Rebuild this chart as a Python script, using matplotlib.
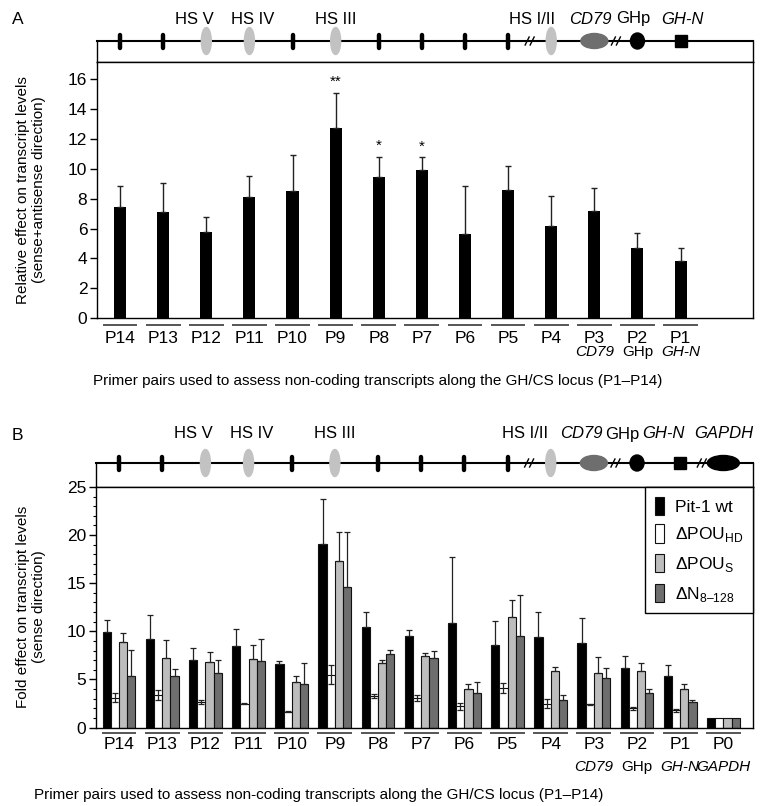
import matplotlib
matplotlib.use('Agg')
import matplotlib.pyplot as plt
from matplotlib.patches import Ellipse, Rectangle, Patch
from matplotlib.ticker import MultipleLocator
import numpy as np

FAM = ['Liberation Sans', 'DejaVu Sans']
plt.rcParams['font.family'] = FAM
plt.rcParams['mathtext.fontset'] = 'custom'
plt.rcParams['mathtext.rm'] = 'Liberation Sans'
plt.rcParams['axes.linewidth'] = 1.0

# ---------------- data ----------------
primers_A = ['P14', 'P13', 'P12', 'P11', 'P10', 'P9', 'P8', 'P7', 'P6', 'P5', 'P4', 'P3', 'P2', 'P1']
sub_A = ['', '', '', '', '', '', '', '', '', '', '', 'CD79', 'GHp', 'GH-N']
vals_A = [7.45, 7.08, 5.79, 8.13, 8.53, 12.7, 9.47, 9.91, 5.66, 8.55, 6.17, 7.17, 4.72, 3.83]
err_A = [1.42, 1.94, 0.98, 1.40, 2.37, 2.36, 1.33, 0.85, 3.18, 1.65, 1.98, 1.56, 0.98, 0.89]
stars_A = ['', '', '', '', '', '**', '*', '*', '', '', '', '', '', '']

primers_B = primers_A + ['P0']
sub_B = sub_A + ['GAPDH']
series_B = ['Pit-1 wt', 'ΔPOU$_{\\mathregular{HD}}$', 'ΔPOU$_{\\mathregular{S}}$', 'ΔN$_{\\mathregular{8–128}}$']
wt = [9.92, 9.16, 7.06, 8.51, 6.56, 19.06, 10.43, 9.51, 10.89, 8.61, 9.40, 8.82, 6.23, 5.34, 1.0]
wt_err = [1.21, 2.59, 1.21, 1.76, 0.38, 4.65, 1.63, 0.66, 6.86, 2.45, 2.59, 2.58, 1.21, 1.16, 0.0]
hd = [3.10, 3.40, 2.70, 2.50, 1.65, 5.50, 3.30, 3.10, 2.20, 4.10, 2.50, 2.44, 2.00, 1.80, 1.0]
hd_err = [0.45, 0.50, 0.20, 0.05, 0.05, 1.00, 0.20, 0.30, 0.35, 0.50, 0.50, 0.05, 0.15, 0.17, 0.0]
pous = [8.88, 7.20, 6.86, 7.09, 4.78, 17.33, 6.73, 7.44, 3.96, 11.54, 5.85, 5.64, 5.87, 4.04, 1.0]
pous_err = [0.93, 1.86, 0.99, 1.52, 0.62, 3.00, 0.33, 0.35, 0.52, 1.72, 0.45, 1.70, 0.86, 0.54, 0.0]
n8 = [5.37, 5.34, 5.72, 6.92, 4.55, 14.64, 7.68, 7.27, 3.61, 9.47, 2.85, 5.20, 3.55, 2.65, 1.0]
n8_err = [2.66, 0.79, 1.27, 2.31, 2.13, 5.72, 0.42, 0.69, 1.14, 4.31, 0.49, 1.03, 0.41, 0.20, 0.0]

# schematic features along the locus (one per primer position)
feat_A = ['tick', 'tick', 'hs', 'hs', 'tick', 'hs', 'tick', 'tick', 'tick', 'tick', 'hs', 'cd79', 'circle', 'square']
feat_B = feat_A + ['gapdh']
sch_labels_A = [('HS V', 1.72, False), ('HS IV', 3.08, False), ('HS III', 5.0, False),
                ('HS I/II', 9.55, False), ('CD79', 10.9, True), ('GHp', 11.9, False), ('GH-N', 13.05, True)]
sch_labels_B = [('HS V', 1.72, False), ('HS IV', 3.08, False), ('HS III', 5.0, False),
                ('HS I/II', 9.4, False), ('CD79', 10.7, True), ('GHp', 11.65, False), ('GH-N', 12.6, True),
                ('GAPDH', 14.0, True)]

caption = 'Primer pairs used to assess non-coding transcripts along the GH/CS locus (P1–P14)'

# ---------------- layout ----------------
W, H = 767, 806
fig = plt.figure(figsize=(W / 100, H / 100), dpi=100)
XLIM = (-0.535, 14.68)
FS = 12.5
FS2 = 11


def add_ax(left, top, right, bottom):
    return fig.add_axes([left / W, 1 - bottom / H, (right - left) / W, (bottom - top) / H])


def schematic(left, top, right, bottom, feats, breaks, labels, label_dy):
    ax = add_ax(left, top, right, bottom)
    hpx = bottom - top
    ax.set_xlim(*XLIM)
    ax.set_ylim(0, hpx)
    ax.set_xticks([])
    ax.set_yticks([])
    ax.spines['top'].set_linewidth(1.5)
    ppu = (right - left) / (XLIM[1] - XLIM[0])
    y0 = hpx
    for i, kind in enumerate(feats):
        if kind == 'tick':
            ax.plot([i, i], [y0 - 6.5, y0 + 6.5], color='k', lw=3.2, solid_capstyle='round',
                    clip_on=False, zorder=3)
        elif kind == 'hs':
            ax.add_patch(Ellipse((i, y0), 10 / ppu, 27, color='#c2c2c2', clip_on=False, zorder=3))
        elif kind == 'cd79':
            ax.add_patch(Ellipse((i, y0), 27 / ppu, 15, color='#6e6e6e', clip_on=False, zorder=3))
        elif kind == 'circle':
            ax.add_patch(Ellipse((i, y0), 14 / ppu, 16, color='k', clip_on=False, zorder=3))
        elif kind == 'square':
            ax.add_patch(Rectangle((i - 6 / ppu, y0 - 6), 12 / ppu, 12, color='k', clip_on=False, zorder=3))
        elif kind == 'gapdh':
            ax.add_patch(Ellipse((i, y0), 32 / ppu, 15, color='k', clip_on=False, zorder=3))
    for b in breaks:
        for dx in (-2.5, 2.5):
            ax.plot([b + (dx - 2) / ppu, b + (dx + 2) / ppu], [y0 - 4, y0 + 4], color='k', lw=1.0,
                    clip_on=False, zorder=4)
    for txt, xp, ital in labels:
        ax.text(xp, y0 + label_dy, txt, ha='center', va='center', fontsize=12,
                style='italic' if ital else 'normal', clip_on=False)
    return ax


def style_main(ax, labels, subs, h_px, lab_dy, sub_dy, line_dy):
    ax.set_xlim(*XLIM)
    x = np.arange(len(labels))
    ax.set_xticks(x)
    ax.set_xticklabels(labels, fontsize=FS)
    ax.tick_params(axis='x', length=0, pad=lab_dy)
    ax.tick_params(axis='y', direction='out', length=5, width=1.0, labelsize=FS, pad=2)
    tr = ax.get_xaxis_transform()
    for xi, s in zip(x, subs):
        ax.plot([xi - 0.38, xi + 0.38], [-line_dy / h_px] * 2, transform=tr, color='#555555', lw=1.4,
                clip_on=False)
        if s:
            ax.text(xi, -sub_dy / h_px, s, transform=tr, ha='center', va='center', fontsize=FS2,
                    style='normal' if s == 'GHp' else 'italic')


# ---------------- panel A ----------------
fig.text(12 / W, 1 - 20 / H, 'A', fontsize=FS, ha='left', va='center')
schematic(97, 41, 753, 62, feat_A, [9.5, 11.5], sch_labels_A, 22)
axA = add_ax(97, 62, 753, 318.3)
xA = np.arange(len(primers_A))
axA.bar(xA, vals_A, width=0.28, color='k', zorder=2)
axA.errorbar(xA, vals_A, yerr=[np.zeros(len(xA)), err_A], fmt='none', ecolor='#222222',
             elinewidth=1.0, capsize=2.3, capthick=1.0, zorder=3)
for xi, v, e, s in zip(xA, vals_A, err_A, stars_A):
    if s:
        axA.text(xi, v + e + 0.25, s, ha='center', va='bottom', fontsize=11)
axA.set_ylim(0, 17.13)
axA.set_yticks(np.arange(0, 17, 2))
style_main(axA, primers_A, sub_A, 256.3, 9, 34, 7)
fig.text(31 / W, 1 - 190 / H, 'Relative effect on transcript levels\n(sense+antisense direction)',
         rotation=90, ha='center', va='center', fontsize=FS2, linespacing=1.25)
fig.text(93 / W, 1 - 381 / H, caption, ha='left', va='center', fontsize=FS2)

# ---------------- panel B ----------------
fig.text(12 / W, 1 - 435 / H, 'B', fontsize=FS, ha='left', va='center')
schematic(96, 463, 752.7, 487, feat_B, [9.5, 11.5, 13.5], sch_labels_B, 29)
axB = add_ax(96, 487, 752.7, 727.6)
xB = np.arange(len(primers_B))
bw = 0.19
colors = ['#000000', '#ffffff', '#bdbdbd', '#6e6e6e']
vals = [wt, hd, pous, n8]
errs = [wt_err, hd_err, pous_err, n8_err]
handles = []
for k in range(4):
    pos = xB + (k - 1.5) * bw
    axB.bar(pos, vals[k], width=bw, color=colors[k], edgecolor='#111111', linewidth=0.8, zorder=2)
    e = np.array(errs[k])
    lower = e if k == 1 else np.zeros_like(e)
    mask = e > 0
    axB.errorbar(pos[mask], np.array(vals[k])[mask], yerr=[lower[mask], e[mask]], fmt='none',
                 ecolor='#222222', elinewidth=0.9, capsize=2.0, capthick=0.9, zorder=3)
    handles.append(Patch(facecolor=colors[k], edgecolor='#111111', linewidth=0.8, label=series_B[k]))
axB.set_ylim(0, 25)
axB.set_yticks(np.arange(0, 26, 5))
axB.yaxis.set_minor_locator(MultipleLocator(1))
axB.tick_params(axis='y', which='minor', direction='out', length=2.5, width=0.8)
style_main(axB, primers_B, sub_B, 240.6, 7, 39.5, 5)
leg = axB.legend(handles=handles, loc='upper right', bbox_to_anchor=(1, 1), borderaxespad=0,
                 fancybox=False, edgecolor='k', framealpha=1, handlelength=0.55, handleheight=1.25,
                 labelspacing=0.55, borderpad=0.55, handletextpad=0.6, fontsize=FS)
leg.get_frame().set_linewidth(1.0)
fig.text(31 / W, 1 - 607 / H, 'Fold effect on transcript levels\n(sense direction)',
         rotation=90, ha='center', va='center', fontsize=FS2, linespacing=1.25)
fig.text(34 / W, 1 - 795 / H, caption, ha='left', va='center', fontsize=FS2)

fig.savefig('out.png', dpi=100)
